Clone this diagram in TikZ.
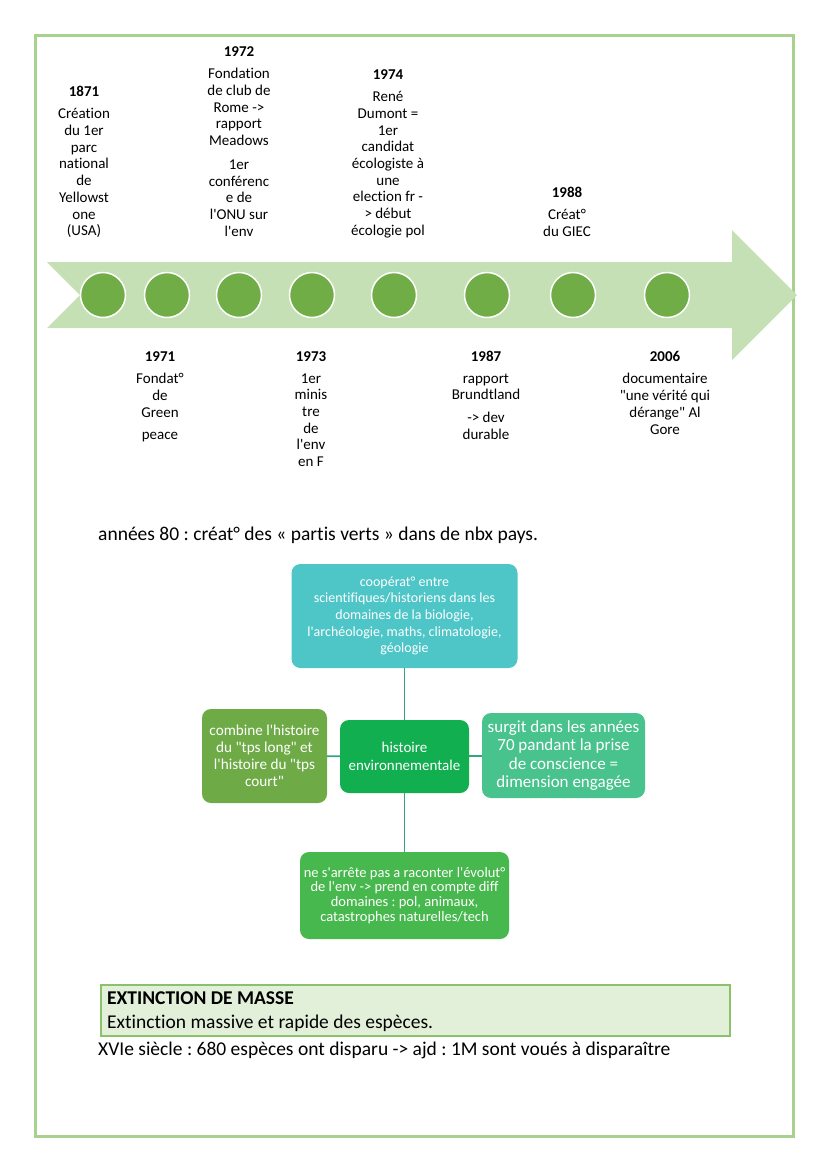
\documentclass[tikz,border=0pt]{standalone}
\usepackage{fontspec}
\setmainfont{Carlito}[Ligatures={TeXOff,NoCommon}]
\frenchspacing
\usetikzlibrary{positioning}

\definecolor{framegreen}{HTML}{A9D18E}
\definecolor{arrowgreen}{HTML}{C5E0B4}
\definecolor{dotgreen}{HTML}{70AD47}
\definecolor{coopteal}{HTML}{4EC5C7}
\definecolor{histgreen}{HTML}{12AF50}
\definecolor{combgreen}{HTML}{6EAB46}
\definecolor{surgteal}{HTML}{48C38D}
\definecolor{evolgreen}{HTML}{47B84D}
\definecolor{linkteal}{HTML}{35A283}
\definecolor{extfill}{HTML}{E2EFD9}
\definecolor{extline}{HTML}{8CC16C}

\tikzset{
  yr/.style={font=\bfseries\fontsize{15}{16.7}\selectfont, inner sep=0pt, anchor=base},
  evt/.style={font=\fontsize{15}{16.7}\selectfont, align=center, inner sep=0pt,
    execute at begin node=\strut},
  dot/.style={circle, fill=dotgreen, draw=white, line width=1.5pt, minimum size=45pt},
  mbox/.style={rounded corners=9pt, text=white, align=center, inner sep=3pt},
  link/.style={draw=linkteal, line width=1.8pt},
  body/.style={font=\fontsize{19.5}{24}\selectfont, inner sep=0pt, anchor=base west}
}

\begin{document}
\begin{tikzpicture}[x=1pt, y=-1pt]
  \useasboundingbox (0,0) rectangle (828,1171);
  \draw[framegreen, line width=3pt] (35,35) rectangle (793,1136);

  % timeline arrow
  \fill[arrowgreen] (47,262) -- (732,262) -- (732,230) -- (797,295) -- (732,360)
    -- (732,328) -- (47,328) -- (80,295) -- cycle;
  \foreach \x [count=\i] in {103,167,239,312,394,487,573,667}
    \node[dot] (d\i) at (\x,295) {};

  % events above
  \node[yr] (y1871) at (84,96) {1871};
  \node[evt, below=12pt of y1871] (t1871) {Création\\du 1er\\parc\\national\\de\\Yellowst\\one\\(USA)};
  \node[yr] (y1972) at (239,56) {1972};
  \node[evt, below=12pt of y1972] (t1972) {Fondation\\de club de\\Rome ->\\rapport\\Meadows\\[7pt]
    1er\\conférenc\\e de\\l'ONU sur\\l'env};
  \node[yr] (y1974) at (388,79) {1974};
  \node[evt, below=12pt of y1974] (t1974) {René\\Dumont =\\1er\\candidat\\écologiste à\\une\\election fr -\\> début\\écologie pol};
  \node[yr] (y1988) at (567,197) {1988};
  \node[evt, below=12pt of y1988] (t1988) {Créat°\\du GIEC};

  % events below
  \node[yr] (y1971) at (160,361) {1971};
  \node[evt, below=12pt of y1971] (t1971) {Fondat°\\de\\Green\\[6pt]peace};
  \node[yr] (y1973) at (311,361) {1973};
  \node[evt, below=12pt of y1973] (t1973) {1er\\minis\\tre\\de\\l'env\\en F};
  \node[yr] (y1987) at (486,361) {1987};
  \node[evt, below=12pt of y1987] (t1987) {rapport\\Brundtland\\[6pt]-> dev\\durable};
  \node[yr] (y2006) at (665,361) {2006};
  \node[evt, below=12pt of y2006] (t2006) {documentaire\\"une vérité qui\\dérange" Al\\Gore};

  \node[body] (annees) at (98,540) {années 80 : créat° des « partis verts » dans de nbx pays.};

  % mind map
  \node[mbox, fill=coopteal, minimum width=226pt, minimum height=104pt,
    font=\fontsize{14}{16.7}\selectfont] (coop) at (404.5,616)
    {coopérat° entre\\scientifiques/historiens dans les\\domaines de la biologie,\\l'archéologie, maths, climatologie,\\géologie};
  \node[mbox, fill=histgreen, minimum width=129pt, minimum height=73pt,
    font=\fontsize{15}{17.5}\selectfont] (hist) at (404.5,756.5)
    {histoire\\environnementale};
  \node[mbox, fill=combgreen, minimum width=125pt, minimum height=94pt,
    font=\fontsize{15.2}{17}\selectfont] (comb) at (264.5,756)
    {combine l'histoire\\du "tps long" et\\l'histoire du "tps\\court"};
  \node[mbox, fill=surgteal, minimum width=163pt, minimum height=85pt,
    font=\fontsize{17}{18.3}\selectfont] (surg) at (563.5,755.5)
    {surgit dans les années\\70 pandant la prise\\de conscience =\\dimension engagée};
  \node[mbox, fill=evolgreen, minimum width=209pt, minimum height=87pt,
    font=\fontsize{14.5}{14.8}\selectfont] (evol) at (404.5,895.5)
    {ne s'arrête pas a raconter l'évolut°\\de l'env -> prend en compte diff\\domaines : pol, animaux,\\catastrophes naturelles/tech};
  \draw[link] (coop) -- (hist);
  \draw[link] (hist) -- (comb);
  \draw[link] (hist) -- (surg);
  \draw[link] (hist) -- (evol);

  % extinction
  \node[draw=extline, fill=extfill, line width=2pt, anchor=north west,
    minimum width=629pt, minimum height=51pt, inner sep=0pt] (ext) at (100,984) {};
  \node[body, font=\bfseries\fontsize{19.5}{24}\selectfont] (exttitle) at (107,1004) {EXTINCTION DE MASSE};
  \node[body] (extdef) at (107,1028) {Extinction massive et rapide des espèces.};
  \node[body] (xvie) at (98,1055) {XVIe siècle : 680 espèces ont disparu -> ajd : 1M sont voués à disparaître};
\end{tikzpicture}
\end{document}
